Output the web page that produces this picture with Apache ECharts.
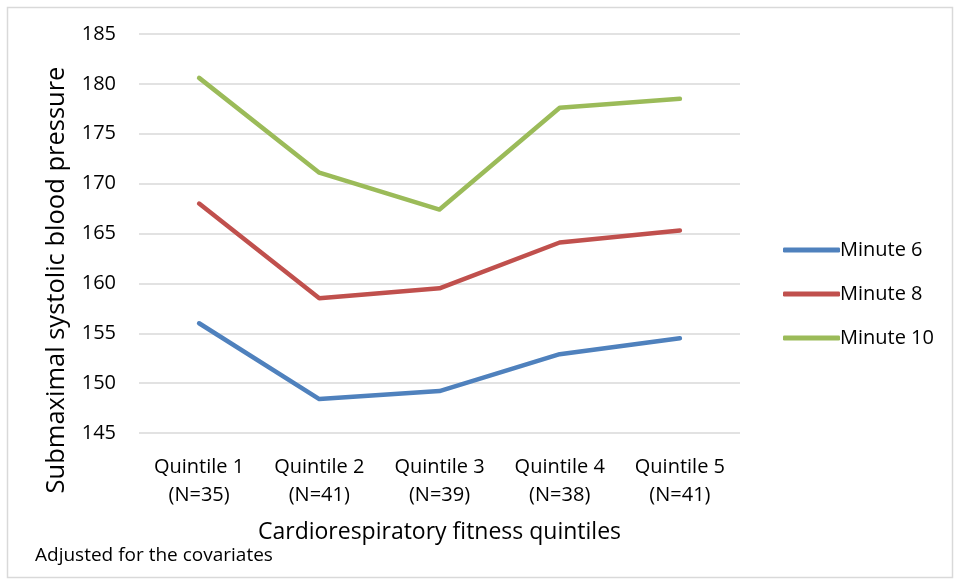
<!DOCTYPE html>
<html>
<head>
<meta charset="utf-8">
<script src="https://cdn.jsdelivr.net/npm/echarts@6/dist/echarts.min.js"></script>
<style>html,body{margin:0;padding:0;background:#fff}#c{width:955px;height:579px}</style>
</head>
<body>
<div id="c"></div>
<script>
const categories = ['Quintile 1\n(N=35)', 'Quintile 2\n(N=41)', 'Quintile 3\n(N=39)', 'Quintile 4\n(N=38)', 'Quintile 5\n(N=41)'];
const minute6 = [156.0, 148.4, 149.2, 152.9, 154.5];
const minute8 = [168.0, 158.5, 159.5, 164.1, 165.3];
const minute10 = [180.6, 171.1, 167.4, 177.6, 178.5];
const seriesNames = ['Minute 6', 'Minute 8', 'Minute 10'];
const yTitle = 'Submaximal systolic blood pressure';
const xTitle = 'Cardiorespiratory fitness quintiles';
const footnote = 'Adjusted for the covariates';

const font = '"Open Sans", "Noto Sans", sans-serif';
const colors = ['#4F81BD', '#C0504D', '#9BBB59'];
const chart = echarts.init(document.getElementById('c'), null, {renderer: 'canvas'});
const dataList = [minute6, minute8, minute10];
chart.setOption({
  animation: false,
  color: colors,
  textStyle: {fontFamily: font},
  grid: {left: 139, right: 215, top: 34, bottom: 146},
  legend: {
    orient: 'vertical', left: 778, top: 235,
    itemWidth: 57, itemHeight: 5, itemGap: 24, icon: 'roundRect',
    textStyle: {fontFamily: font, fontSize: 20, color: '#000', padding: [0, 0, 0, -5]},
    data: seriesNames
  },
  xAxis: {
    type: 'category', data: categories, boundaryGap: true,
    axisLine: {show: false}, axisTick: {show: false},
    axisLabel: {fontFamily: font, fontSize: 20, color: '#000', lineHeight: 28, margin: 20},
    name: xTitle, nameLocation: 'middle', nameGap: 88,
    nameTextStyle: {fontFamily: font, fontSize: 23, color: '#000'}
  },
  yAxis: {
    type: 'value', min: 145, max: 185, interval: 5,
    axisLine: {show: false}, axisTick: {show: false},
    axisLabel: {fontFamily: font, fontSize: 20, color: '#000', margin: 23},
    splitLine: {lineStyle: {color: '#D9D9D9', width: 1.5}}
  },
  series: seriesNames.map((n, i) => ({
    name: n, type: 'line', data: dataList[i], symbol: 'none',
    lineStyle: {width: 4.5, color: colors[i], cap: 'round', join: 'round'},
    itemStyle: {color: colors[i]}
  })),
  graphic: [
    {type: 'rect', left: 5, top: 5, shape: {width: 945, height: 570}, style: {fill: 'none', stroke: '#D9D9D9', lineWidth: 1.5}, silent: true},
    {type: 'text', x: 57, y: 280, rotation: Math.PI / 2, style: {text: yTitle, fontFamily: font, fontSize: 25.5, fill: '#000', align: 'center', verticalAlign: 'middle'}},
    {type: 'text', left: 35, top: 546, style: {text: footnote, fontFamily: font, fontSize: 19, fill: '#000'}}
  ]
});
</script>
</body>
</html>
